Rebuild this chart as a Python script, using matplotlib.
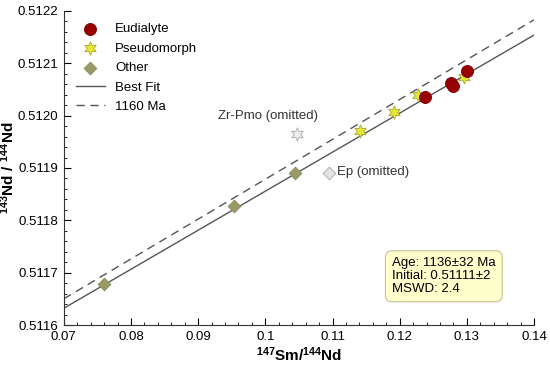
import numpy as np
import matplotlib.pyplot as plt
from matplotlib.ticker import AutoMinorLocator, FormatStrFormatter, FuncFormatter

plt.rcParams['font.family'] = ['Liberation Sans', 'DejaVu Sans']
plt.rcParams['mathtext.fontset'] = 'custom'
plt.rcParams['mathtext.rm'] = 'Liberation Sans'
plt.rcParams['mathtext.bf'] = 'Liberation Sans:bold'

eud_x = [0.1237, 0.1276, 0.1279, 0.1300]
eud_y = [0.512035, 0.512062, 0.512056, 0.512086]
pmo_x = [0.1141, 0.1192, 0.1227, 0.1295]
pmo_y = [0.511971, 0.512007, 0.512040, 0.512073]
oth_x = [0.0760, 0.0953, 0.1044]
oth_y = [0.511679, 0.511827, 0.511891]
zr_pmo = (0.1047, 0.511965)
ep = (0.1095, 0.511891)

lam = 6.54e-12
fit_age, fit_init = 1136e6, 0.51111
ref_age, ref_init = 1160e6, 0.511117

fig, ax = plt.subplots(figsize=(5.5, 3.66), dpi=100)
fig.subplots_adjust(left=0.116, right=0.971, bottom=0.112, top=0.970)

xx = np.array([0.07, 0.14])
ax.plot(xx, fit_init + xx * (np.exp(lam * fit_age) - 1), color='#555555', lw=1.0, label='Best Fit')
ax.plot(xx, ref_init + xx * (np.exp(lam * ref_age) - 1), color='#555555', lw=1.0,
        ls=(0, (6, 4)), label='1160 Ma')

ax.scatter(oth_x, oth_y, marker='D', s=42, color='#9a9a66', edgecolor='#8a8a5a', lw=0.6, zorder=3, label='Other')
ax.scatter(pmo_x, pmo_y, marker=(6, 1, 0), s=90, color='#e6e633', edgecolor='#a8a830', lw=0.6, zorder=3, label='Pseudomorph')
ax.scatter(eud_x, eud_y, marker='o', s=75, color='#990000', edgecolor='#7a0000', lw=0.6, zorder=4, label='Eudialyte')

ax.scatter(*zr_pmo, marker=(6, 1, 0), s=90, color='#eeeeee', edgecolor='#b0b0b0', lw=0.7, zorder=3)
ax.scatter(*ep, marker='D', s=42, color='#e4e4e4', edgecolor='#b0b0b0', lw=0.7, zorder=3)
ax.text(0.0929, 0.512000, 'Zr-Pmo (omitted)', fontsize=9.5, va='center', ha='left', color='#333333')
ax.text(0.1107, 0.511893, 'Ep (omitted)', fontsize=9.5, va='center', ha='left', color='#333333')

ax.text(0.698, 0.095, 'Age: 1136±32 Ma\nInitial: 0.51111±2\nMSWD: 2.4', transform=ax.transAxes,
        fontsize=9.5, va='bottom', ha='left', linespacing=1.1,
        bbox=dict(boxstyle='round,pad=0.5', fc='#ffffcc', ec='#c8c096', lw=0.8))

ax.set_xlim(0.07, 0.14)
ax.set_ylim(0.5116, 0.5122)
ax.set_xticks(np.arange(0.07, 0.1401, 0.01))
ax.set_yticks(np.arange(0.5116, 0.51221, 0.0001))
ax.xaxis.set_major_formatter(FuncFormatter(lambda v, p: '%g' % round(v, 4)))
ax.yaxis.set_major_formatter(FormatStrFormatter('%.4f'))
ax.xaxis.set_minor_locator(AutoMinorLocator(5))
ax.yaxis.set_minor_locator(AutoMinorLocator(5))
ax.tick_params(which='major', direction='in', length=5, width=0.8, labelsize=9.5, pad=4)
ax.tick_params(which='minor', direction='in', length=2.5, width=0.6)
for s in ['top', 'right']:
    ax.spines[s].set_visible(False)
for s in ['left', 'bottom']:
    ax.spines[s].set_color('#333333')

ax.set_xlabel('$\\mathbf{^{147}Sm/^{144}Nd}$', fontsize=11, labelpad=2)
ax.set_ylabel('$\\mathbf{^{143}Nd\\ /\\ ^{144}Nd}$', fontsize=11)
ax.yaxis.set_label_coords(-0.099, 0.5)

h, l = ax.get_legend_handles_labels()
order = [4, 3, 2, 0, 1]
ax.legend([h[i] for i in order], [l[i] for i in order], loc='upper left', bbox_to_anchor=(0.0, 1.0),
          frameon=False, fontsize=9.5, handlelength=2.2, labelspacing=0.55, scatterpoints=1)

fig.savefig('out.png', dpi=100)
